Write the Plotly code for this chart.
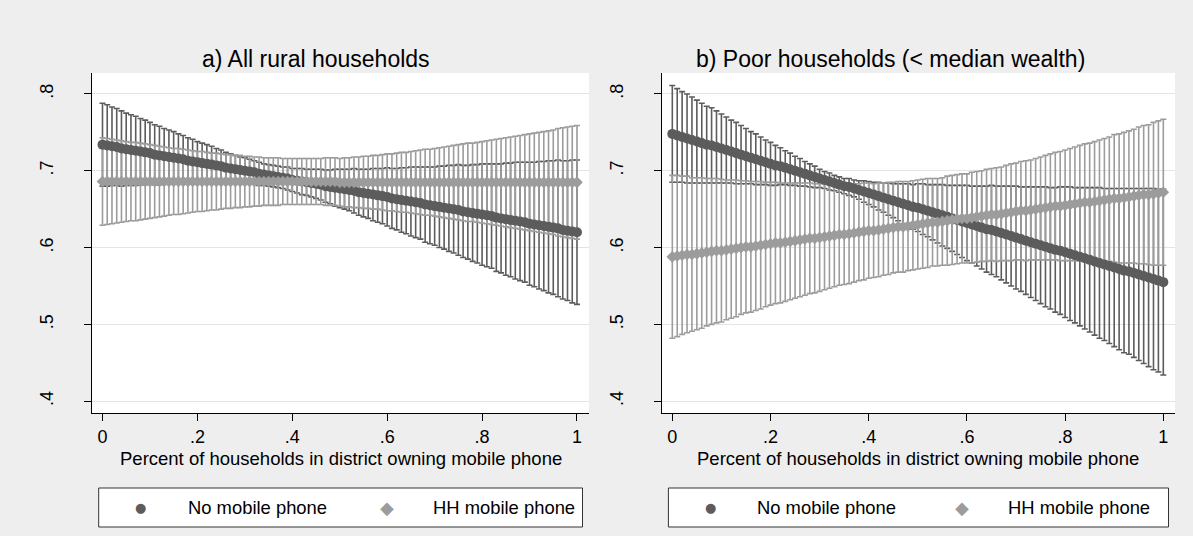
import plotly.graph_objects as go

# Share of households in the district owning a mobile phone (x grid of the margins)
SHARE = [
    0.00, 0.01, 0.02, 0.03, 0.04, 0.05, 0.06, 0.07, 0.08, 0.09,
    0.10, 0.11, 0.12, 0.13, 0.14, 0.15, 0.16, 0.17, 0.18, 0.19,
    0.20, 0.21, 0.22, 0.23, 0.24, 0.25, 0.26, 0.27, 0.28, 0.29,
    0.30, 0.31, 0.32, 0.33, 0.34, 0.35, 0.36, 0.37, 0.38, 0.39,
    0.40, 0.41, 0.42, 0.43, 0.44, 0.45, 0.46, 0.47, 0.48, 0.49,
    0.50, 0.51, 0.52, 0.53, 0.54, 0.55, 0.56, 0.57, 0.58, 0.59,
    0.60, 0.61, 0.62, 0.63, 0.64, 0.65, 0.66, 0.67, 0.68, 0.69,
    0.70, 0.71, 0.72, 0.73, 0.74, 0.75, 0.76, 0.77, 0.78, 0.79,
    0.80, 0.81, 0.82, 0.83, 0.84, 0.85, 0.86, 0.87, 0.88, 0.89,
    0.90, 0.91, 0.92, 0.93, 0.94, 0.95, 0.96, 0.97, 0.98, 0.99,
    1.00,
]

# Panel a) All rural households: predicted margins and 95% CI half-widths
ALL_NO_MEAN = [
    0.734, 0.733, 0.732, 0.731, 0.729, 0.728, 0.727, 0.726, 0.725, 0.724,
    0.723, 0.721, 0.720, 0.719, 0.718, 0.717, 0.716, 0.715, 0.713, 0.712,
    0.711, 0.710, 0.709, 0.708, 0.707, 0.706, 0.704, 0.703, 0.702, 0.701,
    0.700, 0.699, 0.698, 0.696, 0.695, 0.694, 0.693, 0.692, 0.691, 0.690,
    0.688, 0.687, 0.686, 0.685, 0.684, 0.683, 0.682, 0.680, 0.679, 0.678,
    0.677, 0.676, 0.675, 0.674, 0.672, 0.671, 0.670, 0.669, 0.668, 0.667,
    0.666, 0.664, 0.663, 0.662, 0.661, 0.660, 0.659, 0.658, 0.656, 0.655,
    0.654, 0.653, 0.652, 0.651, 0.650, 0.649, 0.647, 0.646, 0.645, 0.644,
    0.643, 0.642, 0.641, 0.639, 0.638, 0.637, 0.636, 0.635, 0.634, 0.633,
    0.631, 0.630, 0.629, 0.628, 0.627, 0.626, 0.625, 0.623, 0.622, 0.621,
    0.620,
]
ALL_NO_CI = [
    0.054, 0.053, 0.051, 0.050, 0.049, 0.047, 0.046, 0.045, 0.043, 0.042,
    0.040, 0.039, 0.038, 0.036, 0.035, 0.034, 0.032, 0.031, 0.030, 0.029,
    0.027, 0.026, 0.025, 0.024, 0.022, 0.021, 0.020, 0.019, 0.018, 0.017,
    0.017, 0.016, 0.015, 0.015, 0.014, 0.014, 0.014, 0.014, 0.014, 0.015,
    0.015, 0.016, 0.017, 0.017, 0.018, 0.019, 0.020, 0.021, 0.022, 0.024,
    0.025, 0.026, 0.027, 0.029, 0.030, 0.031, 0.032, 0.034, 0.035, 0.036,
    0.038, 0.039, 0.040, 0.042, 0.043, 0.045, 0.046, 0.047, 0.049, 0.050,
    0.051, 0.053, 0.054, 0.056, 0.057, 0.059, 0.060, 0.061, 0.063, 0.064,
    0.066, 0.067, 0.068, 0.070, 0.071, 0.073, 0.074, 0.076, 0.077, 0.078,
    0.080, 0.081, 0.083, 0.084, 0.086, 0.087, 0.089, 0.090, 0.091, 0.093,
    0.094,
]
ALL_HH_MEAN = [
    0.686, 0.686, 0.686, 0.686, 0.686, 0.686, 0.686, 0.686, 0.686, 0.686,
    0.686, 0.686, 0.686, 0.686, 0.686, 0.686, 0.686, 0.686, 0.686, 0.686,
    0.686, 0.686, 0.686, 0.686, 0.686, 0.686, 0.686, 0.686, 0.686, 0.686,
    0.686, 0.686, 0.686, 0.686, 0.686, 0.686, 0.686, 0.686, 0.686, 0.686,
    0.686, 0.686, 0.686, 0.686, 0.686, 0.686, 0.686, 0.686, 0.686, 0.686,
    0.685, 0.685, 0.685, 0.685, 0.685, 0.685, 0.685, 0.685, 0.685, 0.685,
    0.685, 0.685, 0.685, 0.685, 0.685, 0.685, 0.685, 0.685, 0.685, 0.685,
    0.685, 0.685, 0.685, 0.685, 0.685, 0.685, 0.685, 0.685, 0.685, 0.685,
    0.685, 0.685, 0.685, 0.685, 0.685, 0.685, 0.685, 0.685, 0.685, 0.685,
    0.685, 0.685, 0.685, 0.685, 0.685, 0.685, 0.685, 0.685, 0.685, 0.685,
    0.685,
]
ALL_HH_CI = [
    0.057, 0.056, 0.055, 0.054, 0.053, 0.052, 0.051, 0.051, 0.050, 0.049,
    0.048, 0.047, 0.046, 0.045, 0.044, 0.043, 0.043, 0.042, 0.041, 0.040,
    0.039, 0.039, 0.038, 0.037, 0.037, 0.036, 0.035, 0.035, 0.034, 0.034,
    0.033, 0.033, 0.032, 0.032, 0.031, 0.031, 0.031, 0.031, 0.030, 0.030,
    0.030, 0.030, 0.030, 0.030, 0.030, 0.030, 0.030, 0.031, 0.031, 0.031,
    0.031, 0.032, 0.032, 0.033, 0.033, 0.034, 0.034, 0.035, 0.035, 0.036,
    0.037, 0.037, 0.038, 0.039, 0.039, 0.040, 0.041, 0.042, 0.043, 0.043,
    0.044, 0.045, 0.046, 0.047, 0.048, 0.049, 0.050, 0.051, 0.051, 0.052,
    0.053, 0.054, 0.055, 0.056, 0.057, 0.058, 0.059, 0.060, 0.061, 0.062,
    0.063, 0.064, 0.065, 0.066, 0.067, 0.068, 0.070, 0.071, 0.072, 0.073,
    0.074,
]

# Panel b) Poor households (< median wealth)
POOR_NO_MEAN = [
    0.748, 0.746, 0.744, 0.742, 0.740, 0.738, 0.736, 0.734, 0.733, 0.731,
    0.729, 0.727, 0.725, 0.723, 0.721, 0.719, 0.717, 0.715, 0.713, 0.711,
    0.709, 0.707, 0.706, 0.704, 0.702, 0.700, 0.698, 0.696, 0.694, 0.692,
    0.690, 0.688, 0.686, 0.684, 0.682, 0.680, 0.679, 0.677, 0.675, 0.673,
    0.671, 0.669, 0.667, 0.665, 0.663, 0.661, 0.659, 0.657, 0.655, 0.653,
    0.652, 0.650, 0.648, 0.646, 0.644, 0.642, 0.640, 0.638, 0.636, 0.634,
    0.632, 0.630, 0.628, 0.626, 0.624, 0.623, 0.621, 0.619, 0.617, 0.615,
    0.613, 0.611, 0.609, 0.607, 0.605, 0.603, 0.601, 0.599, 0.597, 0.596,
    0.594, 0.592, 0.590, 0.588, 0.586, 0.584, 0.582, 0.580, 0.578, 0.576,
    0.574, 0.572, 0.570, 0.569, 0.567, 0.565, 0.563, 0.561, 0.559, 0.557,
    0.555,
]
POOR_NO_CI = [
    0.063, 0.061, 0.059, 0.058, 0.056, 0.054, 0.052, 0.050, 0.049, 0.047,
    0.045, 0.043, 0.041, 0.040, 0.038, 0.036, 0.034, 0.033, 0.031, 0.029,
    0.028, 0.026, 0.024, 0.022, 0.021, 0.019, 0.018, 0.016, 0.015, 0.014,
    0.012, 0.011, 0.011, 0.010, 0.010, 0.010, 0.011, 0.011, 0.012, 0.014,
    0.015, 0.016, 0.018, 0.019, 0.021, 0.022, 0.024, 0.026, 0.028, 0.029,
    0.031, 0.033, 0.034, 0.036, 0.038, 0.040, 0.041, 0.043, 0.045, 0.047,
    0.049, 0.050, 0.052, 0.054, 0.056, 0.058, 0.059, 0.061, 0.063, 0.065,
    0.067, 0.068, 0.070, 0.072, 0.074, 0.076, 0.078, 0.079, 0.081, 0.083,
    0.085, 0.087, 0.088, 0.090, 0.092, 0.094, 0.096, 0.098, 0.099, 0.101,
    0.103, 0.105, 0.107, 0.108, 0.110, 0.112, 0.114, 0.116, 0.118, 0.119,
    0.121,
]
POOR_HH_MEAN = [
    0.588, 0.589, 0.590, 0.591, 0.591, 0.592, 0.593, 0.594, 0.595, 0.596,
    0.596, 0.597, 0.598, 0.599, 0.600, 0.601, 0.601, 0.602, 0.603, 0.604,
    0.605, 0.606, 0.606, 0.607, 0.608, 0.609, 0.610, 0.611, 0.612, 0.612,
    0.613, 0.614, 0.615, 0.616, 0.617, 0.617, 0.618, 0.619, 0.620, 0.621,
    0.622, 0.622, 0.623, 0.624, 0.625, 0.626, 0.627, 0.627, 0.628, 0.629,
    0.630, 0.631, 0.632, 0.633, 0.633, 0.634, 0.635, 0.636, 0.637, 0.638,
    0.638, 0.639, 0.640, 0.641, 0.642, 0.643, 0.643, 0.644, 0.645, 0.646,
    0.647, 0.648, 0.648, 0.649, 0.650, 0.651, 0.652, 0.653, 0.654, 0.654,
    0.655, 0.656, 0.657, 0.658, 0.659, 0.659, 0.660, 0.661, 0.662, 0.663,
    0.664, 0.664, 0.665, 0.666, 0.667, 0.668, 0.669, 0.669, 0.670, 0.671,
    0.672,
]
POOR_HH_CI = [
    0.106, 0.105, 0.103, 0.102, 0.100, 0.099, 0.098, 0.096, 0.095, 0.094,
    0.093, 0.091, 0.090, 0.089, 0.087, 0.086, 0.085, 0.084, 0.083, 0.081,
    0.080, 0.079, 0.078, 0.077, 0.076, 0.075, 0.074, 0.073, 0.072, 0.071,
    0.070, 0.069, 0.068, 0.067, 0.066, 0.065, 0.065, 0.064, 0.063, 0.063,
    0.062, 0.061, 0.061, 0.060, 0.060, 0.059, 0.059, 0.059, 0.058, 0.058,
    0.058, 0.058, 0.058, 0.057, 0.057, 0.057, 0.058, 0.058, 0.058, 0.058,
    0.058, 0.059, 0.059, 0.059, 0.060, 0.060, 0.061, 0.061, 0.062, 0.063,
    0.063, 0.064, 0.065, 0.065, 0.066, 0.067, 0.068, 0.069, 0.070, 0.071,
    0.072, 0.073, 0.074, 0.075, 0.076, 0.077, 0.078, 0.079, 0.080, 0.081,
    0.083, 0.084, 0.085, 0.086, 0.087, 0.089, 0.090, 0.091, 0.093, 0.094,
    0.095,
]

PANEL_TITLES = ["a) All rural households", "b) Poor households (< median wealth)"]
SERIES_NAMES = ["No mobile phone", "HH mobile phone"]
X_TITLE = "Percent of households in district owning mobile phone"
X_TICKS = [0, 0.2, 0.4, 0.6, 0.8, 1]
X_TICKTEXT = ["0", ".2", ".4", ".6", ".8", "1"]
Y_TICKS = [0.4, 0.5, 0.6, 0.7, 0.8]
Y_TICKTEXT = [".4", ".5", ".6", ".7", ".8"]

# Styling
W, H = 1193, 536
DARK = "#5c5c5c"
LIGHT = "#9c9c9c"
BG = "#eeeeee"
GRID = "#e4e4e4"
FONT = "Liberation Sans, Arial, sans-serif"

fig = go.Figure()

panels = [
    ("x", "y", ALL_NO_MEAN, ALL_NO_CI, ALL_HH_MEAN, ALL_HH_CI),
    ("x2", "y2", POOR_NO_MEAN, POOR_NO_CI, POOR_HH_MEAN, POOR_HH_CI),
]

for xa, ya, no_m, no_ci, hh_m, hh_ci in panels:
    # confidence-interval caps first (dark, then light), markers on top
    for mean, ci, col in ((no_m, no_ci, DARK), (hh_m, hh_ci, LIGHT)):
        fig.add_trace(go.Scatter(
            x=SHARE, y=mean, xaxis=xa, yaxis=ya, mode="markers",
            marker=dict(size=2, color="rgba(0,0,0,0)"),
            error_y=dict(type="data", array=ci, symmetric=True,
                         color=col, thickness=1.6, width=3),
            hoverinfo="skip", showlegend=False,
        ))
    fig.add_trace(go.Scatter(
        x=SHARE, y=no_m, xaxis=xa, yaxis=ya, mode="markers",
        name=SERIES_NAMES[0],
        marker=dict(symbol="circle", size=10, color=DARK, line=dict(width=0)),
        showlegend=False,
    ))
    fig.add_trace(go.Scatter(
        x=SHARE, y=hh_m, xaxis=xa, yaxis=ya, mode="markers",
        name=SERIES_NAMES[1],
        marker=dict(symbol="diamond", size=9, color=LIGHT, line=dict(width=0)),
        showlegend=False,
    ))

# Plot-area geometry in pixels
PANELS_PX = [(92, 589), (661.7, 1175)]
TOP_PX, BOT_PX = 73, 413
X_RANGES = [(-0.0221, 1.0253), (-0.0216, 1.0238)]
Y_RANGE = (0.3846, 0.8273)

axis_common = dict(
    showline=True, linecolor="black", linewidth=1, zeroline=False,
    ticks="outside", ticklen=7, tickwidth=1, tickcolor="black",
    tickfont=dict(size=18, color="black", family=FONT),
)

layout_axes = {}
for k, ((l, r), xr) in enumerate(zip(PANELS_PX, X_RANGES)):
    suffix = "" if k == 0 else str(k + 1)
    layout_axes["xaxis" + suffix] = dict(
        domain=[l / W, r / W], range=list(xr), anchor="y" + suffix,
        tickvals=X_TICKS, ticktext=X_TICKTEXT, showgrid=False,
        ticklabelstandoff=0, **axis_common,
    )
    layout_axes["yaxis" + suffix] = dict(
        domain=[1 - BOT_PX / H, 1 - TOP_PX / H], range=list(Y_RANGE),
        anchor="x" + suffix, tickvals=Y_TICKS, ticktext=Y_TICKTEXT,
        tickangle=-90, showgrid=True, gridcolor=GRID, gridwidth=1.2,
        ticklabelstandoff=24, **axis_common,
    )

annotations = []
shapes = []


def px_x(v):
    return v / W


def px_y(v):
    return 1 - v / H


TITLE_CENTERS = [316, 890]
for k, (l, r) in enumerate(PANELS_PX):
    annotations.append(dict(
        text=PANEL_TITLES[k], x=px_x(TITLE_CENTERS[k]), y=px_y(59),
        xref="paper", yref="paper", showarrow=False,
        xanchor="center", yanchor="middle",
        font=dict(size=23, color="black", family=FONT),
    ))
    annotations.append(dict(
        text=X_TITLE, x=px_x((l + r) / 2), y=px_y(458),
        xref="paper", yref="paper", showarrow=False,
        xanchor="center", yanchor="middle",
        font=dict(size=18.5, color="black", family=FONT),
    ))

# Legend boxes under each panel
LEGENDS = [
    dict(box=(98.7, 582.5), dot=140.5, t1=185.6, dia=386.5, t2=430.5),
    dict(box=(668.4, 1168.5), dot=710.0, t1=755.0, dia=962.0, t2=1006.0),
]
LEG_TOP, LEG_BOT = 488, 527
for lg in LEGENDS:
    x0, x1 = lg["box"]
    shapes.append(dict(
        type="rect", xref="paper", yref="paper",
        x0=px_x(x0), x1=px_x(x1), y0=px_y(LEG_BOT), y1=px_y(LEG_TOP),
        line=dict(color="#333333", width=1), fillcolor="white", layer="below",
    ))
    yc = px_y((LEG_TOP + LEG_BOT) / 2)
    annotations.append(dict(
        text="●", x=px_x(lg["dot"]), y=yc, xref="paper", yref="paper",
        showarrow=False, xanchor="center", yanchor="middle",
        font=dict(size=13, color=DARK, family="DejaVu Sans"),
    ))
    annotations.append(dict(
        text="◆", x=px_x(lg["dia"]), y=yc, xref="paper", yref="paper",
        showarrow=False, xanchor="center", yanchor="middle",
        font=dict(size=18, color=LIGHT, family="DejaVu Sans"),
    ))
    annotations.append(dict(
        text=SERIES_NAMES[0], x=px_x(lg["t1"]), y=yc, xref="paper", yref="paper",
        showarrow=False, xanchor="left", yanchor="middle",
        font=dict(size=18.4, color="black", family=FONT),
    ))
    annotations.append(dict(
        text=SERIES_NAMES[1], x=px_x(lg["t2"]), y=yc, xref="paper", yref="paper",
        showarrow=False, xanchor="left", yanchor="middle",
        font=dict(size=18.4, color="black", family=FONT),
    ))

fig.update_layout(
    width=W, height=H, margin=dict(l=0, r=0, t=0, b=0),
    paper_bgcolor=BG, plot_bgcolor="white", showlegend=False,
    font=dict(family=FONT, color="black"),
    annotations=annotations, shapes=shapes,
    **layout_axes,
)

fig.write_html("out.html")
